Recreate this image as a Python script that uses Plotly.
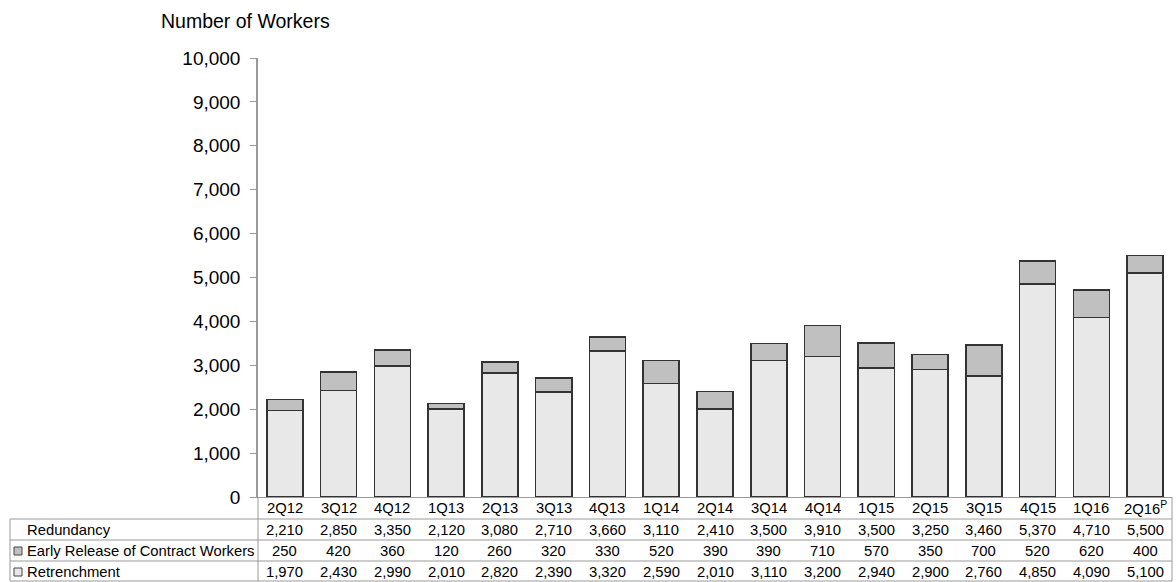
import plotly.graph_objects as go

categories = ["2Q12", "3Q12", "4Q12", "1Q13", "2Q13", "3Q13", "4Q13", "1Q14", "2Q14",
              "3Q14", "4Q14", "1Q15", "2Q15", "3Q15", "4Q15", "1Q16", "2Q16"]
category_labels = ["2Q12", "3Q12", "4Q12", "1Q13", "2Q13", "3Q13", "4Q13", "1Q14", "2Q14",
                   "3Q14", "4Q14", "1Q15", "2Q15", "3Q15", "4Q15", "1Q16", "2Q16<sup>P</sup>"]
redundancy = [2210, 2850, 3350, 2120, 3080, 2710, 3660, 3110, 2410,
              3500, 3910, 3500, 3250, 3460, 5370, 4710, 5500]
early_release = [250, 420, 360, 120, 260, 320, 330, 520, 390,
                 390, 710, 570, 350, 700, 520, 620, 400]
retrenchment = [1970, 2430, 2990, 2010, 2820, 2390, 3320, 2590, 2010,
                3110, 3200, 2940, 2900, 2760, 4850, 4090, 5100]
y_ticks = [0, 1000, 2000, 3000, 4000, 5000, 6000, 7000, 8000, 9000, 10000]

W, H = 1176, 582
L, R, T, B = 258, 4, 58, 85
PW = W - L - R
PH = H - T - B
FONT = "Liberation Sans, Arial, sans-serif"
TS = 14.8

def px(x):
    return (x - L) / PW

def py(y):
    return (H - B - y) / PH

OUTLINE = "#333333"
fig = go.Figure()
fig.add_trace(go.Bar(x=categories, y=retrenchment, name="Retrenchment",
                     marker=dict(color="#e8e8e8", line=dict(color=OUTLINE, width=1.6))))
fig.add_trace(go.Bar(x=categories, y=early_release, name="Early Release of Contract Workers",
                     marker=dict(color="#c0c0c0", line=dict(color=OUTLINE, width=1.6))))

ann = []
shapes = []
# title
ann.append(dict(text="Number of Workers", x=px(159), y=py(21), xref="paper", yref="paper",
                xanchor="left", yanchor="middle", showarrow=False,
                font=dict(family=FONT, size=19.5, color="#000")))

fmt = lambda v: f"{v:,}"
row_y = [530, 551, 572]
for c, lab in zip(categories, category_labels):
    ann.append(dict(text=lab, x=c, y=py(508), xref="x", yref="paper", showarrow=False,
                    xanchor="center", yanchor="middle",
                    font=dict(family=FONT, size=TS, color="#000")))
for vals, yy in zip([redundancy, early_release, retrenchment], row_y):
    for c, v in zip(categories, vals):
        ann.append(dict(text=fmt(v), x=c, y=py(yy), xref="x", yref="paper", showarrow=False,
                        xanchor="center", yanchor="middle",
                        font=dict(family=FONT, size=TS, color="#000")))

row_labels = ["Redundancy", "Early Release of Contract Workers", "Retrenchment"]
for lab, yy in zip(row_labels, row_y):
    ann.append(dict(text=lab, x=px(25), y=py(yy), xref="paper", yref="paper", showarrow=False,
                    xanchor="left", yanchor="middle",
                    font=dict(family=FONT, size=TS, color="#000")))

# legend keys in table
for fill, yy in zip(["#c0c0c0", "#e8e8e8"], row_y[1:]):
    shapes.append(dict(type="rect", xref="paper", yref="paper",
                       x0=px(14), x1=px(22), y0=py(yy - 4), y1=py(yy + 4),
                       fillcolor=fill, line=dict(color="#444", width=1)))

GRID = "#9a9a9a"
# table lines
for yy in [519, 540, 561]:
    shapes.append(dict(type="line", xref="paper", yref="paper", x0=px(10), x1=px(1172),
                       y0=py(yy), y1=py(yy), line=dict(color=GRID, width=1)))
shapes.append(dict(type="line", xref="paper", yref="paper", x0=px(10), x1=px(1172),
                   y0=py(581), y1=py(581), line=dict(color=GRID, width=1)))
shapes.append(dict(type="line", xref="paper", yref="paper", x0=px(10), x1=px(10),
                   y0=py(519), y1=py(581), line=dict(color=GRID, width=1)))
shapes.append(dict(type="line", xref="paper", yref="paper", x0=px(1172), x1=px(1172),
                   y0=py(497), y1=py(581), line=dict(color=GRID, width=1)))
shapes.append(dict(type="line", xref="paper", yref="paper", x0=px(258), x1=px(258),
                   y0=py(497), y1=py(581), line=dict(color=GRID, width=1)))

fig.update_layout(
    width=W, height=H, margin=dict(l=L, r=R, t=T, b=B, pad=0),
    barmode="stack", bargap=0.33, showlegend=False,
    plot_bgcolor="white", paper_bgcolor="white",
    font=dict(family=FONT, color="#000"),
    annotations=ann, shapes=shapes,
    xaxis=dict(showticklabels=False, showline=True, linecolor=GRID, linewidth=1,
               ticks="", showgrid=False, zeroline=False, fixedrange=True),
    yaxis=dict(range=[0, 10000], tickvals=y_ticks, tickformat=",d",
               showline=True, linecolor=GRID, linewidth=1.5, ticks="outside",
               ticklen=6, tickcolor=GRID, showgrid=False, zeroline=False,
               ticklabelstandoff=6,
               tickfont=dict(family=FONT, size=19, color="#000")),
)

fig.write_html("out.html")
